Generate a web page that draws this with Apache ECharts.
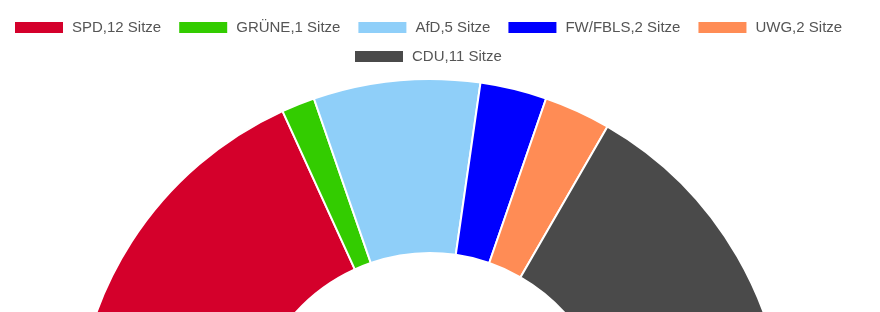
<!DOCTYPE html>
<html>
<head>
<meta charset="utf-8">
<script src="https://cdn.jsdelivr.net/npm/echarts@6/dist/echarts.min.js"></script>
<style>
  html, body { margin: 0; padding: 0; background: #fff; }
  #chart { width: 880px; height: 312px; }
</style>
</head>
<body>
<div id="chart"></div>
<script>
// Sitzverteilung
const parties = ['SPD', 'GRÜNE', 'AfD', 'FW/FBLS', 'UWG', 'CDU']
const seats = [12, 1, 5, 2, 2, 11]
const colors = ['#d4002b', '#33cc00', '#8fcff9', '#0000ff', '#ff8c55', '#4a4a4a']

const names = parties.map((p, i) => p + ',' + seats[i] + ' Sitze')

const chart = echarts.init(document.getElementById('chart'))

const legendBase = {
  itemWidth: 50,
  itemHeight: 13,
  itemGap: 16,
  icon: 'rect',
  textStyle: {
    color: '#555',
    fontSize: 15,
    fontFamily: 'Liberation Sans, Arial, sans-serif',
    padding: [0, 0, 0, 3],
  },
}

chart.setOption({
  animation: false,
  legend: [
    { ...legendBase, left: 8, top: 15, data: names.slice(0, 5) },
    { ...legendBase, left: 348, top: 44, data: names.slice(5) },
  ],
  series: [
    {
      type: 'pie',
      center: [430, 434],
      radius: [181, 355],
      startAngle: 180,
      endAngle: 0,
      clockwise: true,
      label: { show: false },
      labelLine: { show: false },
      emphasis: { disabled: true },
      itemStyle: { borderColor: '#fff', borderWidth: 2 },
      data: names.map((n, i) => ({
        name: n,
        value: seats[i],
        itemStyle: { color: colors[i] },
      })),
    },
  ],
})
</script>
</body>
</html>
